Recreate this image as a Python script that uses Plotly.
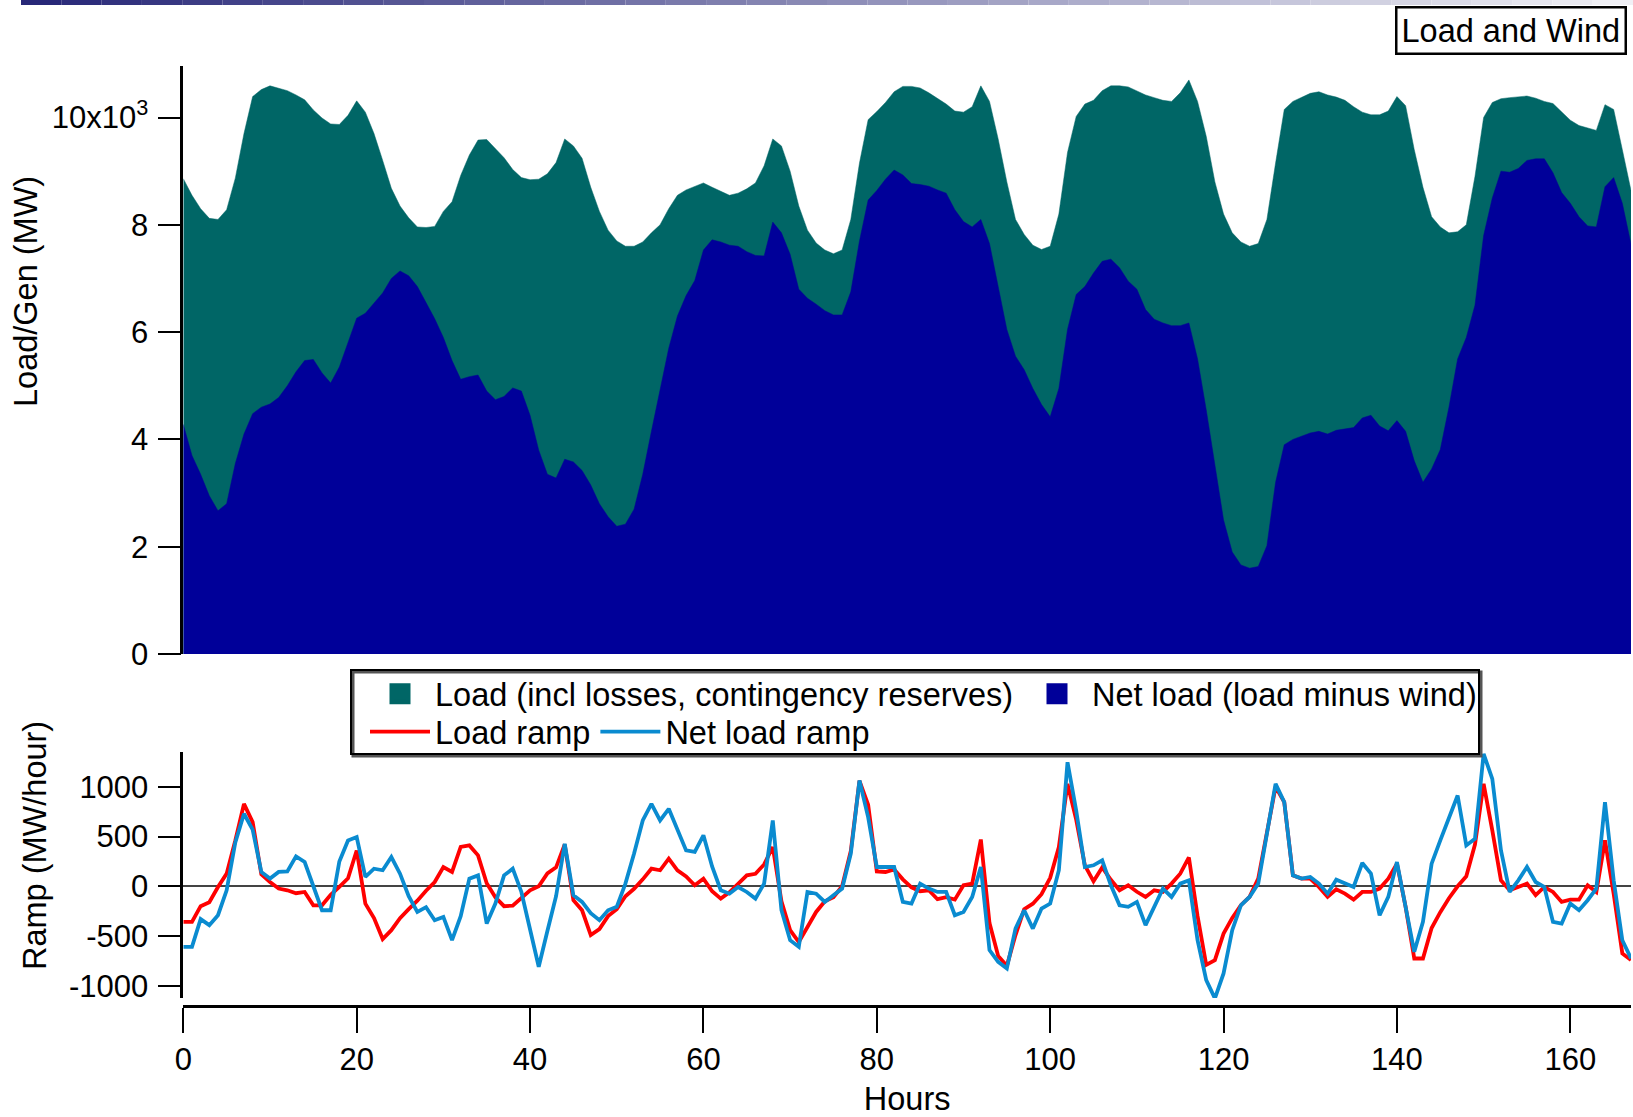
import plotly.graph_objects as go

# ---------------- data ----------------
hours = list(range(168))

load_mw = [
    8860, 8550, 8300, 8120, 8100, 8280, 8870, 9700, 10390, 10520,
    10590, 10550, 10500, 10420, 10330, 10140, 9990, 9880, 9870, 10040,
    10310, 10100, 9700, 9200, 8680, 8350, 8130, 7960, 7950, 7970,
    8250, 8430, 8920, 9300, 9580, 9590, 9420, 9250, 9030, 8880,
    8840, 8850, 8950, 9160, 9600, 9470, 9240, 8700, 8250, 7900,
    7700, 7600, 7600, 7680, 7850, 8000, 8300, 8550, 8650, 8720,
    8780, 8700, 8620, 8550, 8590, 8670, 8780, 9100, 9600, 9470,
    9000, 8350, 7900, 7660, 7530, 7460, 7530, 8100, 9150, 9960,
    10110, 10280, 10480, 10580, 10580, 10550, 10460, 10360, 10250, 10120,
    10100, 10200, 10590, 10300, 9600, 8800, 8100, 7820, 7620, 7540,
    7600, 8200, 9350, 10020, 10250, 10320, 10500, 10590, 10590, 10570,
    10500, 10420, 10370, 10320, 10300, 10460, 10700, 10300, 9650, 8800,
    8200, 7850, 7680, 7600, 7650, 8100, 9150, 10150, 10300, 10380,
    10450, 10480, 10420, 10380, 10320, 10200, 10100, 10050, 10050, 10120,
    10390, 10220, 9400, 8700, 8150, 7960, 7850, 7870, 8000, 8900,
    10000, 10280, 10350, 10370, 10380, 10400, 10360, 10300, 10260, 10100,
    9950, 9850, 9800, 9760, 10240, 10150, 9400, 8640,
]

net_load_mw = [
    4280, 3700, 3350, 2950, 2670, 2800, 3550, 4100, 4480, 4600,
    4660, 4780, 5000, 5260, 5470, 5490, 5240, 5050, 5350, 5800,
    6260, 6350, 6550, 6730, 7000, 7140, 7050, 6850, 6550, 6250,
    5900, 5470, 5120, 5170, 5200, 4900, 4740, 4800, 4960, 4900,
    4450, 3800, 3350, 3280, 3630, 3580, 3420, 3150, 2800, 2560,
    2380, 2420, 2700, 3350, 4150, 4900, 5700, 6300, 6680, 6960,
    7530, 7720, 7680, 7620, 7600, 7500, 7430, 7420, 8050, 7850,
    7450, 6800, 6630, 6520, 6400, 6320, 6320, 6750, 7700, 8460,
    8640, 8850, 9020, 8930, 8770, 8750, 8720, 8650, 8590, 8280,
    8060, 7960, 8100, 7650, 6820, 6050, 5550, 5300, 4950, 4650,
    4420, 4950, 6050, 6700, 6850, 7100, 7320, 7360, 7200, 6950,
    6800, 6420, 6240, 6170, 6120, 6120, 6170, 5500, 4550, 3500,
    2500, 1900, 1660, 1600, 1630, 2020, 3200, 3900, 4000, 4060,
    4120, 4150, 4100, 4170, 4200, 4220, 4400, 4450, 4250, 4160,
    4350, 4150, 3600, 3200, 3450, 3810, 4600, 5500, 5900, 6500,
    7800, 8500, 9000, 8980, 9050, 9200, 9230, 9230, 8970, 8600,
    8400, 8150, 7980, 7960, 8710, 8880, 8400, 7640,
]

load_ramp = [
    -358, -358, -200, -160, -7, 127, 461, 829, 645, 120,
    43, -23, -40, -70, -57, -191, -191, -85, -5, 80,
    360, -174, -320, -530, -441, -320, -230, -145, -45, 43,
    194, 144, 395, 411, 311, 30, -110, -200, -195, -120,
    -40, 0, 130, 190, 420, -140, -241, -490, -430, -300,
    -230, -100, -25, 70, 177, 161, 278, 160, 100, 10,
    77, -50, -124, -60, 27, 110, 125, 220, 395, -150,
    -441, -560, -410, -258, -150, -110, 0, 355, 1060, 820,
    150, 144, 170, 70, -10, -50, -40, -130, -110, -134,
    10, 27, 470, -370, -700, -800, -490, -230, -175, -80,
    85, 395, 1030, 670, 211, 50, 190, 65, -40, 10,
    -55, -107, -40, -57, 27, 127, 290, -300, -790, -742,
    -475, -320, -190, -107, 77, 528, 1000, 846, 110, 77,
    77, -7, -107, -30, -74, -134, -57, -57, -23, 77,
    227, -207, -726, -726, -420, -260, -120, 0, 100, 420,
    1030, 562, 60, -40, -7, 27, -90, -7, -57, -157,
    -134, -134, 10, -57, 461, -74, -675, -742,
]

net_load_ramp = [
    -609, -609, -330, -391, -291, -40, 440, 729, 570, 144,
    77, 144, 150, 301, 244, -7, -241, -241, 250, 461,
    495, 94, 177, 161, 294, 127, -100, -258, -210, -341,
    -308, -542, -300, 77, 110, -375, -174, 110, 177, -57,
    -441, -809, -450, -100, 428, -90, -157, -270, -341, -241,
    -207, 27, 330, 662, 829, 662, 779, 560, 361, 345,
    512, 200, -40, -74, -7, -57, -124, 27, 662, -241,
    -542, -609, -57, -74, -157, -90, -23, 328, 1063, 696,
    194, 194, 194, -157, -174, 27, -23, -57, -57, -291,
    -258, -107, 194, -642, -759, -826, -425, -241, -425, -224,
    -174, 161, 1247, 762, 194, 211, 261, 10, -191, -207,
    -157, -391, -207, -23, -107, 27, 60, -542, -943, -1127,
    -876, -441, -191, -107, 27, 512, 1030, 846, 110, 77,
    94, 27, -74, 67, 33, -7, 234, 127, -291, -107,
    244, -207, -659, -358, 227, 461, 696, 913, 411, 478,
    1331, 1080, 361, -57, 60, 194, 43, -7, -358, -375,
    -174, -241, -140, -23, 846, 60, -542, -726,
]

load_tickvals = [0, 2000, 4000, 6000, 8000, 10000]
load_ticktext = ["0", "2", "4", "6", "8", "10x10<sup>3</sup>"]
ramp_tickvals = [-1000, -500, 0, 500, 1000]
ramp_ticktext = ["-1000", "-500", "0", "500", "1000"]
hour_tickvals = [0, 20, 40, 60, 80, 100, 120, 140, 160]

# ---------------- styling ----------------
W, H = 1633, 1117
FONT = "Liberation Sans, Arial, sans-serif"
FS_TICK = 31
FS = 32.5
TEAL = "#006666"
NAVY = "#000099"
RED = "#FF0000"
CYAN = "#0A8BD0"


def fx(p):
    return p / W


def fy(p):
    return 1 - p / H


XDOM = [fx(183.3), fx(1631)]

fig = go.Figure()

fig.add_trace(go.Scatter(
    x=hours, y=load_mw, mode="lines", fill="tozeroy", fillcolor=TEAL,
    line=dict(color=TEAL, width=0.5), showlegend=False,
    xaxis="x", yaxis="y", name="Load"))
fig.add_trace(go.Scatter(
    x=hours, y=net_load_mw, mode="lines", fill="tozeroy", fillcolor=NAVY,
    line=dict(color=NAVY, width=0.5), showlegend=False,
    xaxis="x", yaxis="y", name="Net load"))

# legend entries for the two areas
fig.add_trace(go.Scatter(
    x=[None], y=[None], mode="markers", xaxis="x", yaxis="y",
    marker=dict(symbol="square", size=16, color=TEAL, line=dict(color=TEAL, width=5)),
    name="Load (incl losses, contingency reserves)", legend="legend"))
fig.add_trace(go.Scatter(
    x=[None], y=[None], mode="markers", xaxis="x", yaxis="y",
    marker=dict(symbol="square", size=16, color=NAVY, line=dict(color=NAVY, width=5)),
    name="Net load (load minus wind)", legend="legend"))

fig.add_trace(go.Scatter(
    x=hours, y=load_ramp, mode="lines", line=dict(color=RED, width=3.8),
    name="Load ramp", xaxis="x2", yaxis="y2", legend="legend2"))
fig.add_trace(go.Scatter(
    x=hours, y=net_load_ramp, mode="lines", line=dict(color=CYAN, width=3.8),
    name="Net load ramp", xaxis="x2", yaxis="y2", legend="legend2"))

axis_common = dict(showgrid=False, showline=True, linecolor="black", linewidth=2.5,
                   ticks="outside", tickcolor="black", tickwidth=2,
                   tickfont=dict(family=FONT, size=FS_TICK, color="black"))

shapes = []
# faded title bar remnant at the very top
n = 40
x_start, x_end = 21, W
for i in range(n):
    t = i / (n - 1)
    r = int(40 + t * (240 - 40))
    g = int(40 + t * (240 - 40))
    b = int(120 + t * (245 - 120))
    shapes.append(dict(type="rect", xref="paper", yref="paper",
                       x0=fx(x_start + (x_end - x_start) * i / n),
                       x1=fx(x_start + (x_end - x_start) * (i + 1) / n),
                       y0=fy(5), y1=1, line=dict(width=0),
                       fillcolor=f"rgb({r},{g},{b})", layer="above"))
# legend frame (with a slight shadow)
shapes.append(dict(type="rect", xref="paper", yref="paper",
                   x0=fx(353), x1=fx(1481), y0=fy(756), y1=fy(672),
                   line=dict(color="#555555", width=3), fillcolor="rgba(0,0,0,0)", layer="above"))
shapes.append(dict(type="rect", xref="paper", yref="paper",
                   x0=fx(351), x1=fx(1479), y0=fy(754), y1=fy(670),
                   line=dict(color="black", width=2), fillcolor="rgba(0,0,0,0)", layer="above"))

annotations = [
    dict(text="Load and Wind", xref="paper", yref="paper", x=fx(1511), y=fy(31),
         xanchor="center", yanchor="middle", showarrow=False,
         font=dict(family=FONT, size=FS, color="black"),
         bordercolor="black", borderwidth=2.5, borderpad=4, bgcolor="white"),
    dict(text="Load/Gen (MW)", xref="paper", yref="paper", x=fx(26), y=fy(292),
         xanchor="center", yanchor="middle", textangle=-90, showarrow=False,
         font=dict(family=FONT, size=FS, color="black")),
    dict(text="Ramp (MW/hour)", xref="paper", yref="paper", x=fx(35), y=fy(846),
         xanchor="center", yanchor="middle", textangle=-90, showarrow=False,
         font=dict(family=FONT, size=FS, color="black")),
]

fig.update_layout(
    width=W, height=H,
    margin=dict(l=0, r=0, t=0, b=0, autoexpand=False),
    paper_bgcolor="white", plot_bgcolor="white",
    font=dict(family=FONT, size=FS, color="black"),
    xaxis=dict(domain=XDOM, range=[0, 167], visible=False, anchor="y"),
    yaxis=dict(domain=[fy(654), fy(66)], range=[0, 10960], anchor="x",
               tickvals=load_tickvals, ticktext=load_ticktext, ticklen=23,
               ticklabelstandoff=3, zeroline=False, **axis_common),
    xaxis2=dict(domain=XDOM, range=[0, 167], anchor="free", position=fy(1006),
                tickvals=hour_tickvals, ticklen=25, zeroline=False,
                title=dict(text="Hours", font=dict(family=FONT, size=FS, color="black"), standoff=18),
                **{**axis_common, "linewidth": 3}),
    yaxis2=dict(domain=[fy(998), fy(752)], range=[-1123, 1350], anchor="x2",
                tickvals=ramp_tickvals, ticktext=ramp_ticktext, ticklen=23,
                ticklabelstandoff=3, zeroline=True, zerolinecolor="#444444",
                zerolinewidth=1.5, **axis_common),
    legend=dict(orientation="h", x=fx(365), xanchor="left", y=fy(694), yanchor="middle",
                itemwidth=60, entrywidth=582, entrywidthmode="pixels",
                bgcolor="rgba(0,0,0,0)", borderwidth=0,
                font=dict(family=FONT, size=FS, color="black")),
    legend2=dict(orientation="h", x=fx(365), xanchor="left", y=fy(732), yanchor="middle",
                 itemwidth=60, bgcolor="rgba(0,0,0,0)", borderwidth=0,
                 font=dict(family=FONT, size=FS, color="black")),
    shapes=shapes,
    annotations=annotations,
    showlegend=True,
)

fig.write_html("out.html",
               config={"displayModeBar": False},
               post_script="document.body.style.margin='0';document.body.style.overflow='hidden';")
